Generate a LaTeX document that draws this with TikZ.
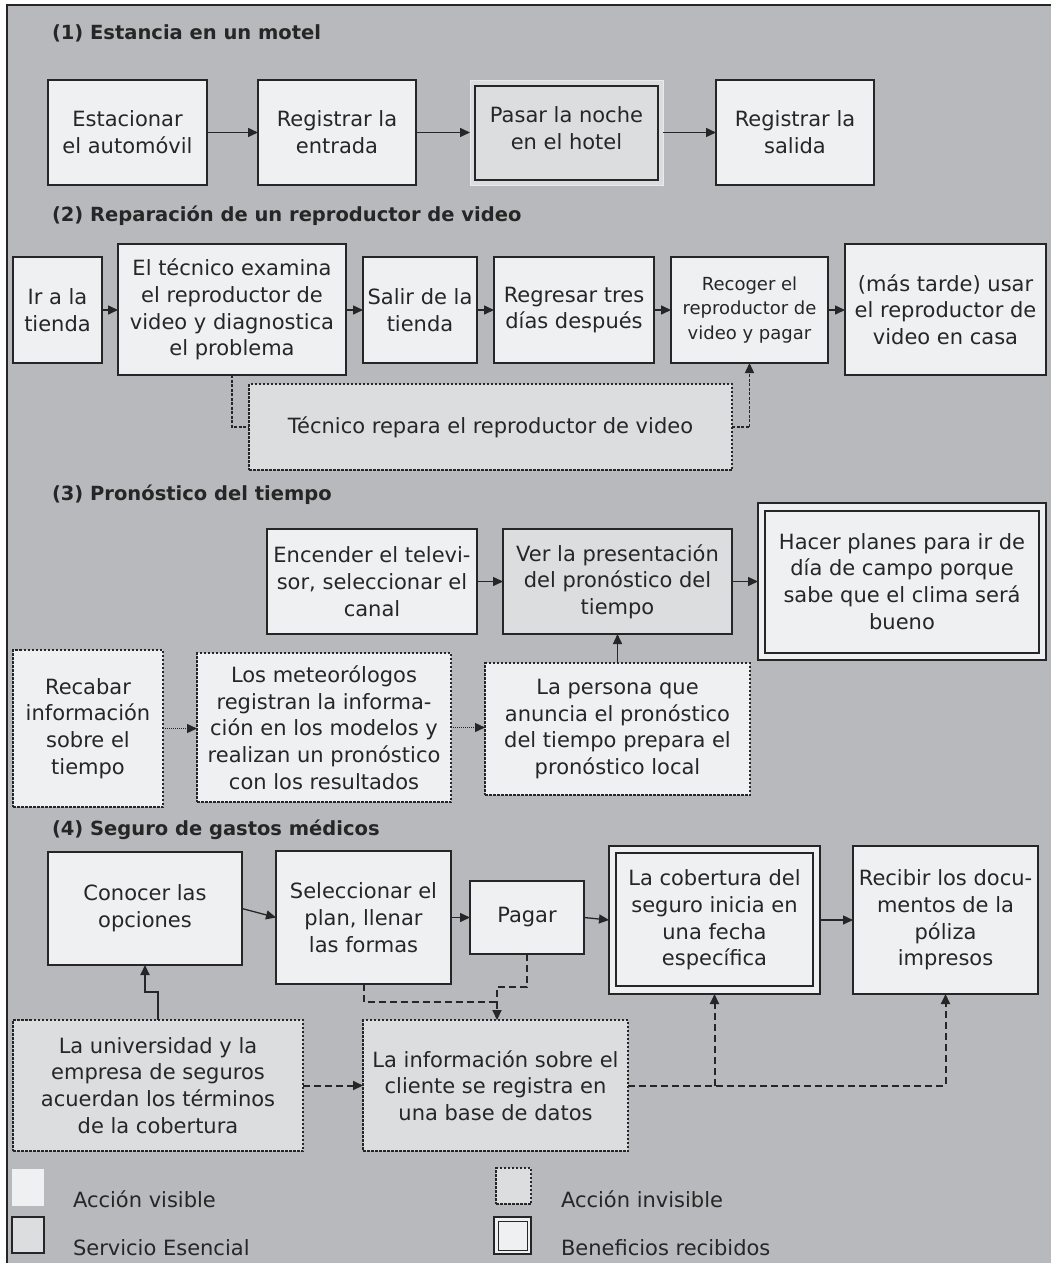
\documentclass[tikz,border=0pt]{standalone}
\usepackage{fontspec}
\setmainfont{DejaVu Sans}
\usetikzlibrary{arrows.meta}
\definecolor{bgc}{HTML}{B8B9BC}
\definecolor{visc}{HTML}{EFF0F2}
\definecolor{corec}{HTML}{DCDDDF}
\definecolor{linec}{HTML}{262626}
\definecolor{pale}{HTML}{E9EAEC}
\begin{document}
\begin{tikzpicture}[x=1pt,y=-1pt,
 every node/.style={inner sep=0pt, outer sep=0pt, align=center, text=linec, font=\fontsize{21}{26.7}\selectfont},
 vis/.style={draw=linec, line width=1.5pt, fill=visc},
 core/.style={draw=linec, line width=1.5pt, fill=corec},
 benef/.style={draw=linec, line width=1.2pt, fill=visc},
 invl/.style={draw=linec, line width=1.2pt, dash pattern=on 2.5pt off 1.5pt, fill=visc},
 invc/.style={draw=linec, line width=1.2pt, dash pattern=on 2.5pt off 1.5pt, fill=corec},
 ttl/.style={anchor=base west, font=\fontsize{19.5}{24}\selectfont\bfseries},
 lgd/.style={anchor=base west},
 tipa/.style={-{Triangle[length=10pt,width=9pt]}},
 arr/.style={draw=linec, line width=1.5pt, tipa},
 dsha/.style={draw=linec, line width=1.4pt, dash pattern=on 3pt off 1.5pt},
 dshb/.style={draw=linec, line width=2pt, dash pattern=on 7pt off 4pt},
 dotarr/.style={draw=linec, line width=1.4pt, dash pattern=on 1pt off 1pt, tipa},
]
\useasboundingbox (0,0) rectangle (1051,1263);
\fill[bgc] (7,5) rectangle (1051,1263);
\draw[linec, line width=1.5pt] (1051,5) -- (7,5) -- (7,1263);

% ---------- (1)
\node[ttl] (t1) at (52,40) {(1) Estancia en un motel};
\node[vis, minimum width=159pt, minimum height=105pt] (a1) at (127.5,132.5) {Estacionar\\el automóvil};
\node[vis, minimum width=158pt, minimum height=105pt] (a2) at (337,132.5) {Registrar la\\entrada};
\node[fill=corec, draw=pale, line width=1pt, minimum width=193pt, minimum height=105pt] (a3) at (566.5,132.5) {};
\draw[linec, line width=1.3pt] ([shift={(5pt,-6pt)}]a3.north west) rectangle ([shift={(-5pt,5pt)}]a3.south east);
\node (a3t) at (566.5,128.5) {Pasar la noche\\en el hotel};
\node[vis, minimum width=158pt, minimum height=105pt] (a4) at (795,132.5) {Registrar la\\salida};
\draw[arr] (a1.east) -- (a2.west);
\draw[arr] (a2.east) -- (a3.west);
\draw[arr] (a3.east) -- (a4.west);

% ---------- (2)
\node[ttl] (t2) at (52,221) {(2) Reparación de un reproductor de video};
\node[vis, minimum width=89pt, minimum height=106pt] (b1) at (57.5,310) {Ir a la\\tienda};
\node[vis, minimum width=228pt, minimum height=131pt] (b2) at (232,309.5) {El técnico examina\\el reproductor de\\video y diagnostica\\el problema};
\node[vis, minimum width=114pt, minimum height=106pt] (b3) at (420,310) {Salir de la\\tienda};
\node[vis, minimum width=160pt, minimum height=106pt] (b4) at (574,310) {Regresar tres\\días después};
\node[vis, minimum width=157pt, minimum height=106pt, font=\fontsize{18}{24.5}\selectfont] (b5) at (749.5,310) {Recoger el\\reproductor de\\video y pagar};
\node[vis, minimum width=201pt, minimum height=131pt] (b6) at (945.5,309.5) {(más tarde) usar\\el reproductor de\\video en casa};
\node[invc, minimum width=483pt, minimum height=86pt] (b7) at (490.5,427) {Técnico repara el reproductor de video};
\draw[arr] (b1.east) -- (b2.west |- b1.east);
\draw[arr] (b2.east |- b3.west) -- (b3.west);
\draw[arr] (b3.east) -- (b4.west);
\draw[arr] (b4.east) -- (b5.west);
\draw[arr] (b5.east) -- (b6.west |- b5.east);
\draw[dsha] (b2.south) |- (b7.west);
\draw[dsha, tipa] (b7.east) -| (b5.south);

% ---------- (3)
\node[ttl] (t3) at (52,500) {(3) Pronóstico del tiempo};
\node[vis, minimum width=210pt, minimum height=105pt] (c1) at (372,581.5) {Encender el televi-\\sor, seleccionar el\\canal};
\node[core, minimum width=229pt, minimum height=105pt] (c2) at (617.5,581.5) {Ver la presentación\\del pronóstico del\\tiempo};
\node[benef, minimum width=288pt, minimum height=157pt] (c3) at (902,581.5) {Hacer planes para ir de\\día de campo porque\\sabe que el clima será\\bueno};
\draw[linec, line width=1.2pt] ([shift={(7pt,-8pt)}]c3.north west) rectangle ([shift={(-7pt,7pt)}]c3.south east);
\node[invl, minimum width=150pt, minimum height=157pt] (c4) at (88,728.5) {Recabar\\información\\sobre el\\tiempo};
\node[invl, minimum width=254pt, minimum height=149pt] (c5) at (324,727.5) {Los meteorólogos\\registran la informa-\\ción en los modelos y\\realizan un pronóstico\\con los resultados};
\node[invl, minimum width=265pt, minimum height=132pt] (c6) at (617.5,729) {La persona que\\anuncia el pronóstico\\del tiempo prepara el\\pronóstico local};
\draw[arr] (c1.east) -- (c2.west);
\draw[arr] (c2.east) -- (c3.west);
\draw[dotarr] (c4.east) -- (c4.east -| c5.west);
\draw[dotarr] (c5.east) -- (c5.east -| c6.west);
\draw[arr] (c6.north) -- (c2.south);

% ---------- (4)
\node[ttl] (t4) at (52,835) {(4) Seguro de gastos médicos};
\node[vis, minimum width=194pt, minimum height=113pt] (d1) at (145,908.5) {Conocer las\\opciones};
\node[vis, minimum width=175pt, minimum height=133pt] (d2) at (363.5,917.5) {Seleccionar el\\plan, llenar\\las formas};
\node[vis, minimum width=114pt, minimum height=73pt] (d3) at (527,917.5) {Pagar};
\node[benef, minimum width=211pt, minimum height=148pt] (d4) at (714.5,920) {La cobertura del\\seguro inicia en\\una fecha\\específica};
\draw[linec, line width=1.2pt] ([shift={(7pt,-7pt)}]d4.north west) rectangle ([shift={(-7pt,8pt)}]d4.south east);
\node[vis, minimum width=185pt, minimum height=148pt] (d5) at (945.5,920) {Recibir los docu-\\mentos de la\\póliza\\impresos};
\node[invc, minimum width=290pt, minimum height=131pt] (d6) at (158,1085.5) {La universidad y la\\empresa de seguros\\acuerdan los términos\\de la cobertura};
\node[invc, minimum width=265pt, minimum height=131pt] (d7) at (495.5,1085.5) {La información sobre el\\cliente se registra en\\una base de datos};
\draw[arr, line width=1.3pt] (d1.east) -- (d2.west);
\draw[arr] (d2.east |- d3.west) -- (d3.west);
\draw[arr, line width=1.3pt] (d3.east) -- (d4.west);
\draw[arr] (d4.east) -- (d5.west);
\draw[arr, line width=2pt] (d6.north) -- ++(0,-28) -| (d1.south);
\draw[dshb, tipa] (d6.east) -- (d7.west);
\coordinate (j1) at (497,1002);
\coordinate (j2) at (497,987);
\draw[dshb] (d2.south) |- (j1);
\draw[dshb] (d3.south) |- (j2) -- (j1);
\draw[dshb, tipa] (j1) -- (j1 |- d7.north);
\draw[dshb, tipa] (d7.east) -| (d5.south);
\draw[dshb, tipa] (d4.south |- d7.east) -- (d4.south);

% ---------- legend
\node[fill=visc, minimum width=32pt, minimum height=37pt] (l1) at (28,1187.5) {};
\node[lgd] (lt1) at (73,1207) {Acción visible};
\node[core, line width=1.3pt, minimum width=32pt, minimum height=36pt] (l2) at (28,1235) {};
\node[lgd] (lt2) at (73,1255) {Servicio Esencial};
\node[invc, minimum width=35pt, minimum height=36pt] (l3) at (513.5,1186) {};
\node[lgd] (lt3) at (561,1207) {Acción invisible};
\node[benef, minimum width=37pt, minimum height=37pt] (l4) at (512.5,1235.5) {};
\draw[linec, line width=1pt] ([shift={(4pt,-4pt)}]l4.north west) rectangle ([shift={(-4pt,4pt)}]l4.south east);
\node[lgd] (lt4) at (561,1255) {Beneficios recibidos};
\end{tikzpicture}
\end{document}
